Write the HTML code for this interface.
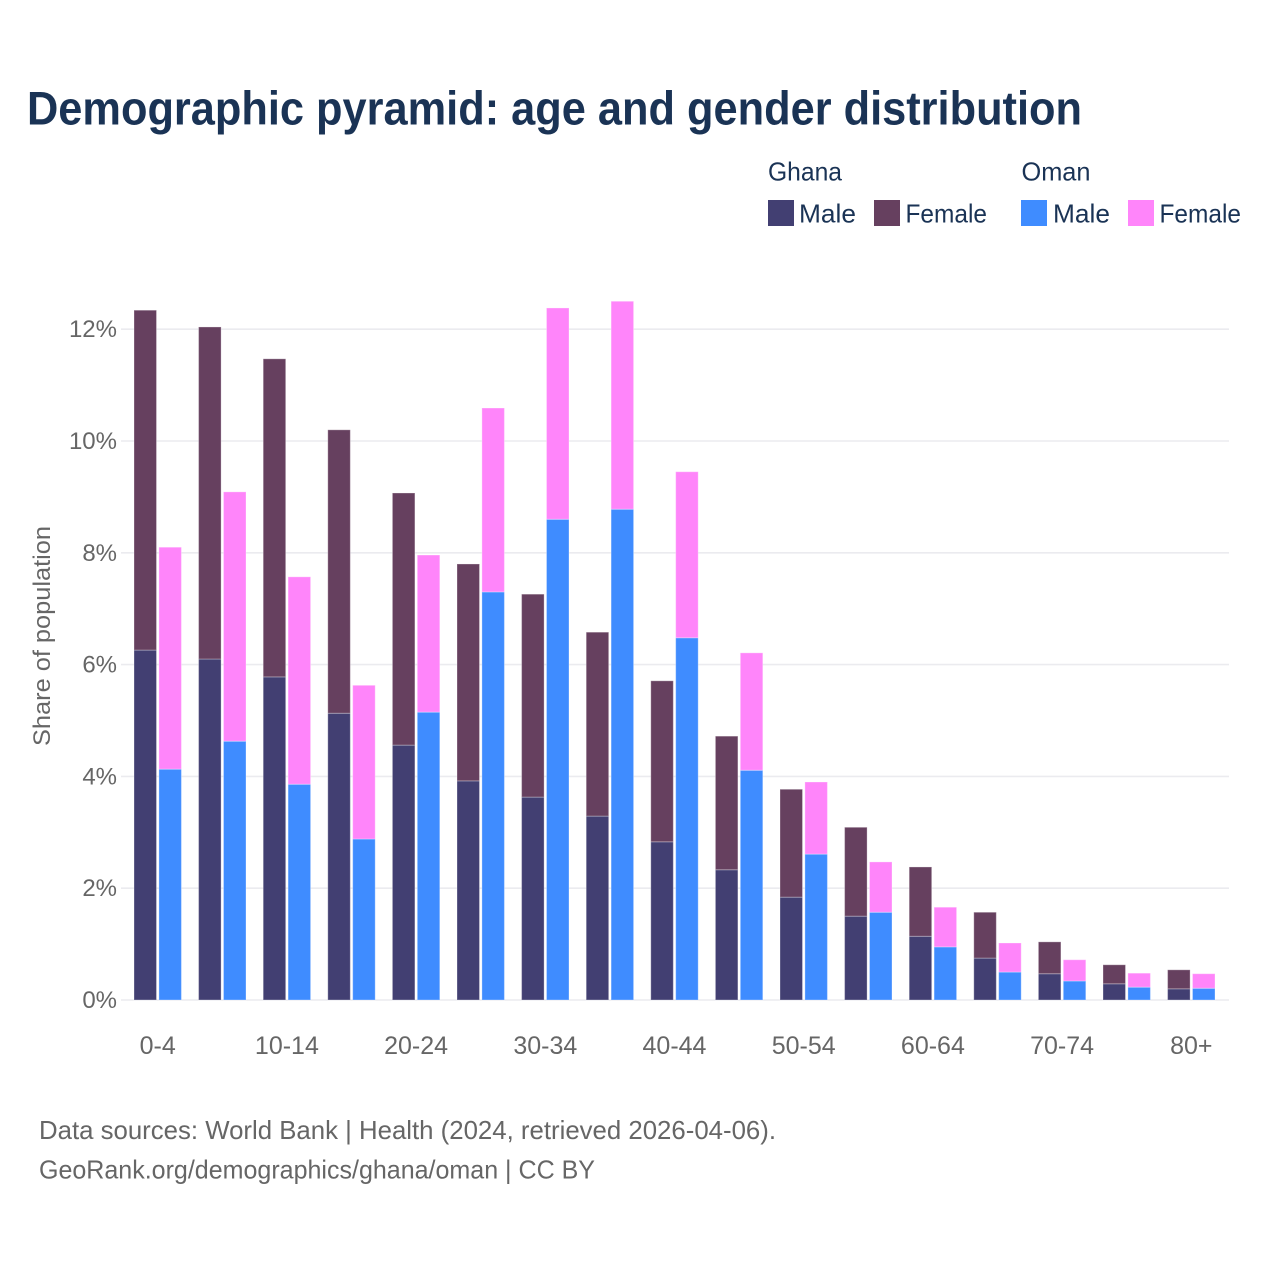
<!DOCTYPE html>
<html lang="en">
<head>
<meta charset="utf-8">
<title>Demographic pyramid: age and gender distribution</title>
<style>
html,body{margin:0;padding:0;background:#fff;}
svg{display:block;font-family:"Liberation Sans",sans-serif;}
</style>
</head>
<body>
<svg id="chart" xmlns="http://www.w3.org/2000/svg" width="1280" height="1280" viewBox="0 0 1280 1280">
  <rect x="0" y="0" width="1280" height="1280" fill="#ffffff"/>
  <text x="27" y="124.5" font-size="47" font-weight="700" fill="#1a3355" textLength="1055" lengthAdjust="spacingAndGlyphs">Demographic pyramid: age and gender distribution</text>

  <g font-size="26" fill="#1a3355">
    <text x="768" y="180.5" textLength="74" lengthAdjust="spacingAndGlyphs">Ghana</text>
    <text x="1021.5" y="180.5" textLength="69" lengthAdjust="spacingAndGlyphs">Oman</text>
    <rect x="768" y="200" width="26" height="26" fill="#423f72"/>
    <text x="799" y="222.5" textLength="57" lengthAdjust="spacingAndGlyphs">Male</text>
    <rect x="874" y="200" width="26" height="26" fill="#66405f"/>
    <text x="905.5" y="222.5" textLength="81.5" lengthAdjust="spacingAndGlyphs">Female</text>
    <rect x="1021" y="200" width="26" height="26" fill="#3f8cff"/>
    <text x="1053" y="222.5" textLength="57" lengthAdjust="spacingAndGlyphs">Male</text>
    <rect x="1128" y="200" width="26" height="26" fill="#ff85fa"/>
    <text x="1159.5" y="222.5" textLength="81.5" lengthAdjust="spacingAndGlyphs">Female</text>
  </g>

  <g id="grid"></g>
  <g id="y-ticks"></g>
  <g id="bars"></g>
  <g id="x-ticks"></g>

  <text transform="translate(50 636) rotate(-90)" text-anchor="middle" font-size="24" fill="#666666" textLength="220" lengthAdjust="spacingAndGlyphs">Share of population</text>

  <text x="39" y="1139" font-size="26" fill="#666666" textLength="737" lengthAdjust="spacingAndGlyphs">Data sources: World Bank | Health (2024, retrieved 2026-04-06).</text>
  <text x="39" y="1178.5" font-size="26" fill="#666666" textLength="556" lengthAdjust="spacingAndGlyphs">GeoRank.org/demographics/ghana/oman | CC BY</text>
</svg>
<script>
const categories = ["0-4","5-9","10-14","15-19","20-24","25-29","30-34","35-39","40-44","45-49","50-54","55-59","60-64","65-69","70-74","75-79","80+"];
const ghanaMale = [6.26,6.10,5.78,5.13,4.56,3.92,3.63,3.29,2.83,2.33,1.84,1.50,1.14,0.75,0.47,0.29,0.20];
const ghanaFemale = [6.08,5.94,5.69,5.07,4.51,3.88,3.63,3.29,2.88,2.39,1.93,1.59,1.24,0.82,0.57,0.34,0.34];
const omanMale = [4.13,4.63,3.86,2.88,5.15,7.30,8.60,8.78,6.48,4.11,2.61,1.57,0.95,0.50,0.34,0.23,0.21];
const omanFemale = [3.97,4.46,3.71,2.75,2.81,3.29,3.78,3.72,2.97,2.10,1.29,0.90,0.71,0.52,0.38,0.25,0.26];
const yTickValues = [0,2,4,6,8,10,12];

const SVG_NS = "http://www.w3.org/2000/svg";
const plotLeft = 121, plotRight = 1229;
const firstCenter = 157.7, bandStep = 64.6, barWidth = 22.5, barOffset = 1.2;
const y0 = 1000, pxPerUnit = 55.9;
function yScale(v){ return y0 - v * pxPerUnit; }
function xScale(i){ return firstCenter + i * bandStep; }

const gridG = document.getElementById("grid");
const yTicksG = document.getElementById("y-ticks");
const barsG = document.getElementById("bars");
const xTicksG = document.getElementById("x-ticks");

yTickValues.forEach(function(v){
  const line = document.createElementNS(SVG_NS, "line");
  
  
  line.setAttribute("x1", plotLeft);
  line.setAttribute("x2", plotRight);
  line.setAttribute("y1", yScale(v));
  line.setAttribute("y2", yScale(v));
  line.setAttribute("stroke", "#ebebef");
  line.setAttribute("stroke-width", "1.6");
  gridG.appendChild(line);

  const label = document.createElementNS(SVG_NS, "text");
  
  
  label.setAttribute("x", 117);
  label.setAttribute("y", yScale(v) + 8);
  label.setAttribute("text-anchor", "end");
  label.setAttribute("font-size", "24");
  label.setAttribute("fill", "#666666");
  label.textContent = v + "%";
  yTicksG.appendChild(label);
});

function addBar(x, bottom, value, color, name){
  const top = bottom + value;
  const rect = document.createElementNS(SVG_NS, "rect");
  
  
  rect.setAttribute("x", x);
  rect.setAttribute("y", yScale(top));
  rect.setAttribute("width", barWidth);
  rect.setAttribute("height", yScale(bottom) - yScale(top));
  rect.setAttribute("fill", color);
  rect.setAttribute("stroke", "#ffffff");
  rect.setAttribute("stroke-opacity", "0.3");
  rect.setAttribute("stroke-width", "1");
  barsG.appendChild(rect);
}

categories.forEach(function(cat, i){
  const c = xScale(i);
  const leftX = c - barOffset - barWidth;
  const rightX = c + barOffset;
  addBar(leftX, 0, ghanaMale[i], "#423f72", "bar-ghana-male");
  addBar(leftX, ghanaMale[i], ghanaFemale[i], "#66405f", "bar-ghana-female");
  addBar(rightX, 0, omanMale[i], "#3f8cff", "bar-oman-male");
  addBar(rightX, omanMale[i], omanFemale[i], "#ff85fa", "bar-oman-female");

  if (i % 2 === 0) {
    const label = document.createElementNS(SVG_NS, "text");
    
    
    label.setAttribute("x", c);
    label.setAttribute("y", 1054);
    label.setAttribute("text-anchor", "middle");
    label.setAttribute("font-size", "25");
    label.setAttribute("fill", "#666666");
    label.textContent = cat;
    xTicksG.appendChild(label);
  }
});
</script>
</body>
</html>
